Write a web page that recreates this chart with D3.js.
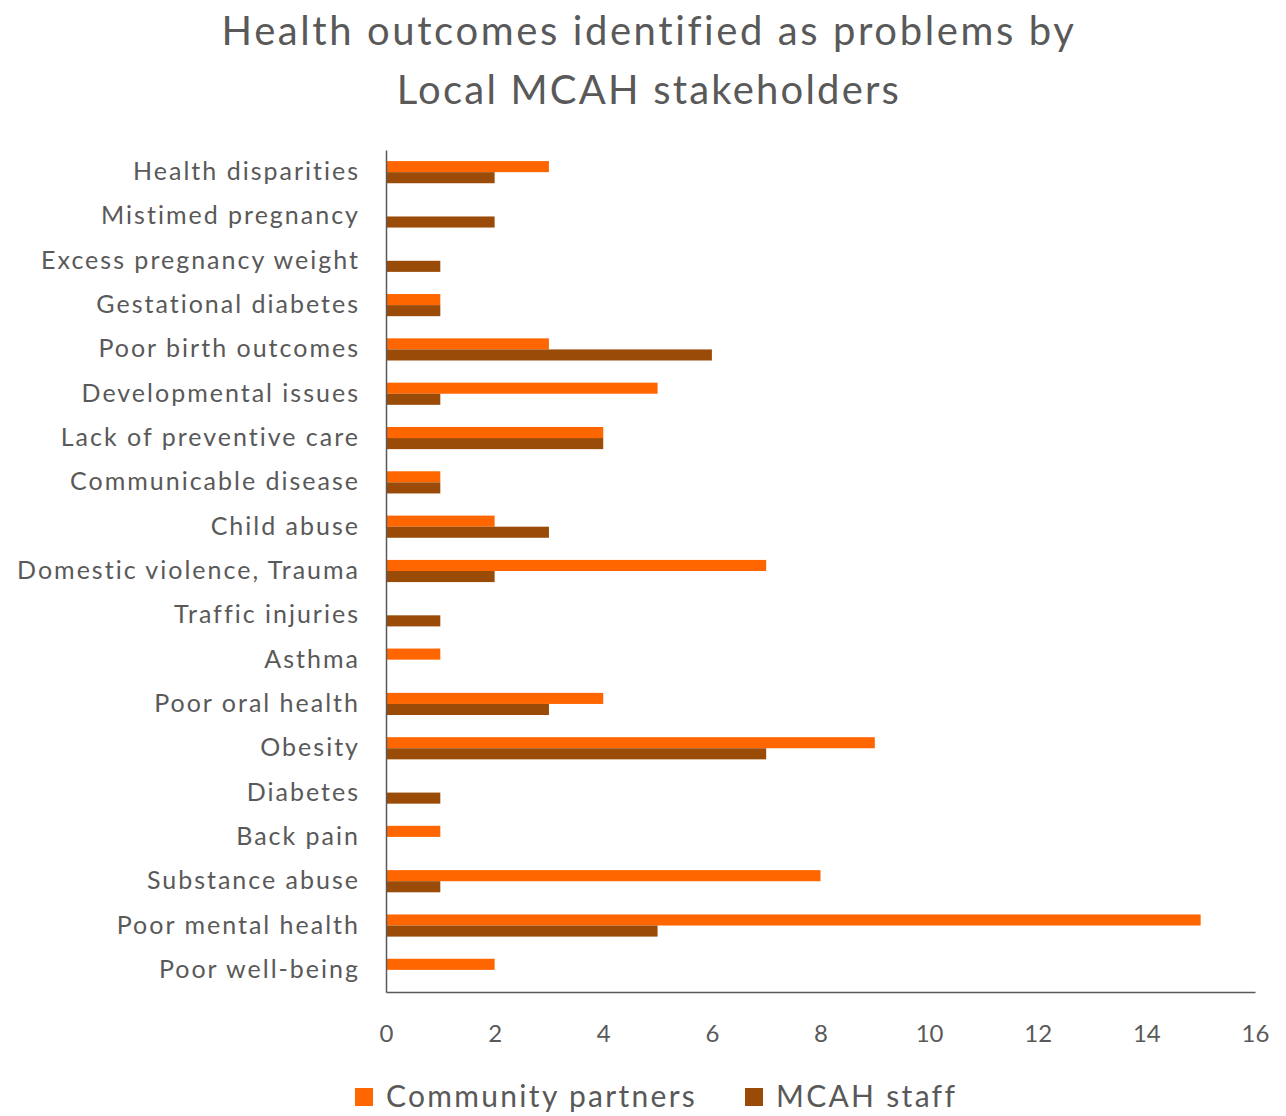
<!DOCTYPE html>
<html>
<head>
<meta charset="utf-8">
<script src="https://cdn.jsdelivr.net/npm/d3@7"></script>
<style>
  body { margin: 0; background: #fff; }
  text { font-family: Lato, "Open Sans", sans-serif; fill: #595959; }
</style>
</head>
<body>
<div id="chart"></div>
<script>
var categories = ["Health disparities", "Mistimed pregnancy", "Excess pregnancy weight",
  "Gestational diabetes", "Poor birth outcomes", "Developmental issues",
  "Lack of preventive care", "Communicable disease", "Child abuse",
  "Domestic violence, Trauma", "Traffic injuries", "Asthma", "Poor oral health",
  "Obesity", "Diabetes", "Back pain", "Substance abuse", "Poor mental health",
  "Poor well-being"];
var communityPartners = [3, 0, 0, 1, 3, 5, 4, 1, 2, 7, 0, 1, 4, 9, 0, 1, 8, 15, 2];
var mcahStaff = [2, 2, 1, 1, 6, 1, 4, 1, 3, 2, 1, 0, 3, 7, 1, 0, 1, 5, 0];
var seriesNames = ["Community partners", "MCAH staff"];
var seriesColors = ["#ff6600", "#9a4b08"];
var xTicks = [0, 2, 4, 6, 8, 10, 12, 14, 16];

var svgWidth = 1286, svgHeight = 1116;
var margin = { top: 150, right: 31, bottom: 124, left: 386 };
var width = svgWidth - margin.left - margin.right;
var height = svgHeight - margin.top - margin.bottom;

var svg = d3.select("#chart").append("svg")
  .attr("width", svgWidth)
  .attr("height", svgHeight);

// title
svg.append("text")
  .attr("x", 649).attr("y", 45)
  .attr("text-anchor", "middle")
  .style("font-size", "40px")
  .style("letter-spacing", "2.6px")
  .text("Health outcomes identified as problems by");
svg.append("text")
  .attr("x", 649).attr("y", 104)
  .attr("text-anchor", "middle")
  .style("font-size", "40px")
  .style("letter-spacing", "2.2px")
  .text("Local MCAH stakeholders");

var chartGroup = svg.append("g")
  .attr("transform", `translate(${margin.left}, ${margin.top})`);

var x = d3.scaleLinear().domain([0, 16]).range([0, width]);
var y = d3.scaleBand().domain(categories).range([0, height]).paddingInner(0).paddingOuter(0);
var inner = d3.scaleBand().domain([0, 1]).range([0, y.bandwidth()]).paddingInner(0).paddingOuter(1);

var rows = categories.map(function(c, i) {
  return { cat: c, vals: [communityPartners[i], mcahStaff[i]] };
});

var groups = chartGroup.selectAll(".row")
  .data(rows)
  .enter().append("g")
  .attr("transform", d => `translate(0, ${y(d.cat)})`);

groups.selectAll("rect")
  .data(d => d.vals.map((v, k) => ({ k: k, v: v })))
  .enter().append("rect")
  .attr("x", 0)
  .attr("y", d => inner(d.k))
  .attr("width", d => x(d.v))
  .attr("height", inner.bandwidth())
  .attr("fill", d => seriesColors[d.k]);

// y axis
var yAxis = chartGroup.append("g")
  .call(d3.axisLeft(y).tickSize(0).tickPadding(26));
yAxis.select(".domain").attr("stroke", "#595959").attr("stroke-width", 1.5);
yAxis.selectAll("text")
  .style("font-size", "25px")
  .style("letter-spacing", "2px")
  .style("fill", "#595959")
  .attr("font-family", null);

// x axis
var xAxis = chartGroup.append("g")
  .attr("transform", `translate(0, ${height})`)
  .call(d3.axisBottom(x).tickValues(xTicks).tickSize(0).tickPadding(33));
xAxis.select(".domain").attr("stroke", "#595959").attr("stroke-width", 1.5);
xAxis.selectAll("text")
  .style("font-size", "24px")
  .style("fill", "#595959")
  .attr("font-family", null);

// legend
var legendX = [355, 745];
var legend = svg.selectAll(".legend")
  .data(seriesNames)
  .enter().append("g")
  .attr("transform", (d, i) => `translate(${legendX[i]}, 1088)`);
legend.append("rect")
  .attr("width", 18).attr("height", 18)
  .attr("fill", (d, i) => seriesColors[i]);
legend.append("text")
  .attr("x", 31).attr("y", 19)
  .style("font-size", "30px")
  .style("letter-spacing", "2.3px")
  .text(d => d);
</script>
</body>
</html>
